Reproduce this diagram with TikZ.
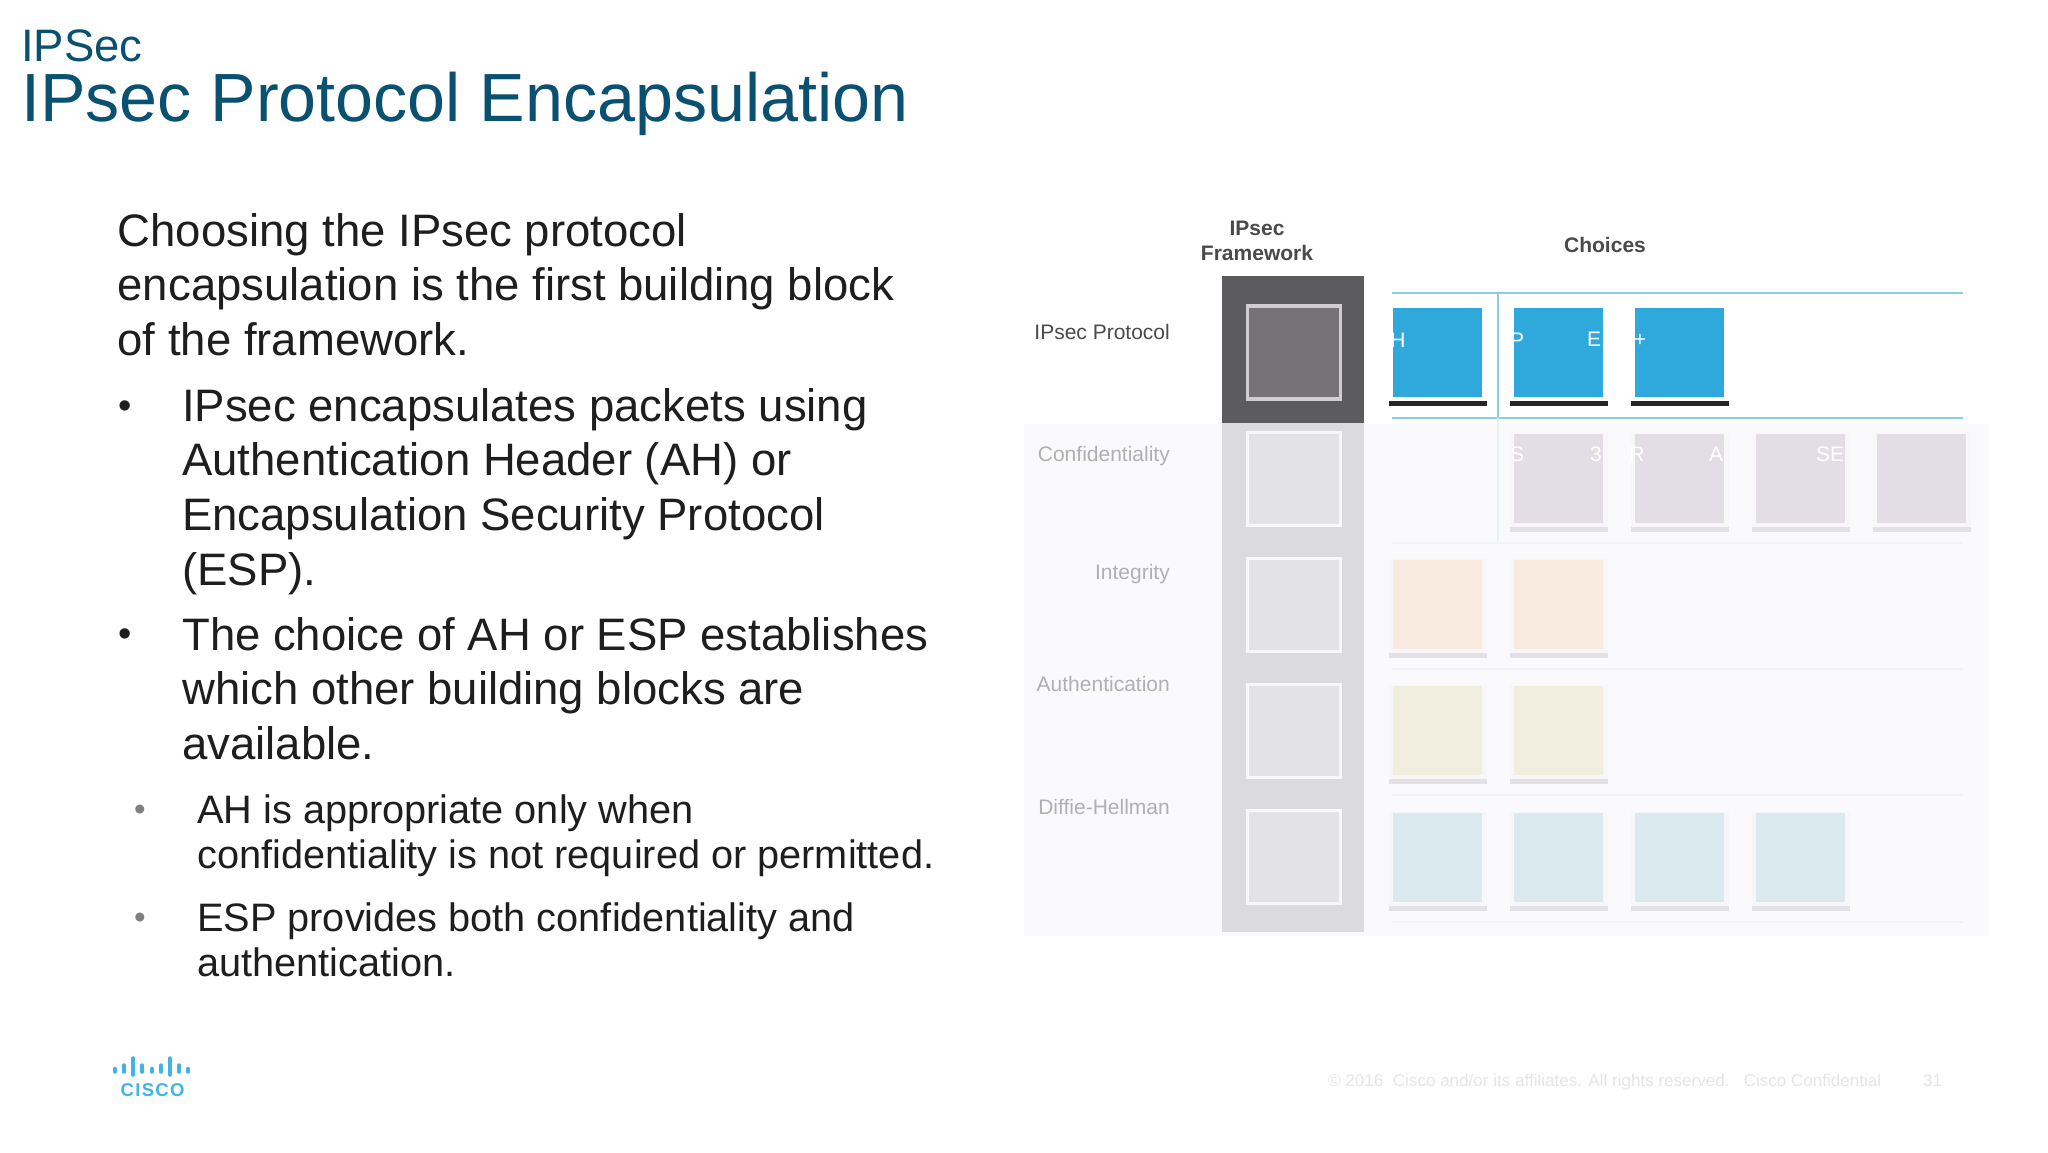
\documentclass[tikz,border=0pt]{standalone}
\usepackage{fontspec}
\setmainfont{Liberation Sans}
\definecolor{ciscotitle}{HTML}{0A5070}
\definecolor{ciscoblue}{HTML}{40B4E2}
\definecolor{bodyink}{HTML}{1E1E1E}
\definecolor{panelpale}{HTML}{FAFAFC}
\definecolor{framedark}{HTML}{5C5B5E}
\definecolor{framemid}{HTML}{757376}
\definecolor{framefade}{HTML}{DBDADE}
\definecolor{slotfade}{HTML}{E3E2E6}
\definecolor{choiceblue}{HTML}{2FA8DC}
\definecolor{choicemauve}{HTML}{E3DEE6}
\definecolor{choicepeach}{HTML}{F9EADF}
\definecolor{choicecream}{HTML}{F2EEDF}
\definecolor{choiceteal}{HTML}{DBEAEE}
\definecolor{rowline}{HTML}{8FCBE0}
\definecolor{rowfade}{HTML}{F2F3F6}
\definecolor{shadowfade}{HTML}{E2E1E5}
\definecolor{edgefade}{HTML}{F7F6F9}
\definecolor{labelfade}{HTML}{B0B0B3}
\definecolor{labeldark}{HTML}{4A4A4D}
\definecolor{footfade}{HTML}{E6E4E9}
\tikzset{
  paratext/.style={anchor=north west, inner sep=0pt, align=left, text=bodyink,
    font=\fontsize{45.5}{54.7}\selectfont},
  subtext/.style={anchor=north west, inner sep=0pt, align=left, text=bodyink,
    font=\fontsize{39.7}{45}\selectfont},
  bullettext/.style={anchor=base, inner sep=0pt, text=bodyink, font=\fontsize{38}{45}\selectfont},
  subbullet/.style={anchor=base, inner sep=0pt, text=gray, font=\fontsize{33}{40}\selectfont},
  rowlabel/.style={anchor=base east, inner sep=0pt, text=labelfade, font=\fontsize{21}{25}\selectfont},
  headlabel/.style={anchor=base, inner sep=0pt, text=labeldark, font=\bfseries\fontsize{21}{24}\selectfont},
  choicebox/.style={inner sep=0pt, minimum width=89pt, minimum height=89pt},
  slotbox/.style={inner sep=0pt, minimum width=93pt, minimum height=93pt, line width=3.5pt},
  ghosttext/.style={anchor=base, inner sep=0pt, text=white, font=\fontsize{21}{25}\selectfont},
  foottext/.style={anchor=base west, inner sep=0pt, text=footfade, font=\fontsize{17.05}{20}\selectfont},
  logobar/.style={ciscoblue, line width=3.5pt, line cap=round}
}
\newcommand\choicerow[6]{
  \fill[#5] (#2-4.5, #3+4) rectangle ++ (98, 94) ;
  \fill[#6] (#2-4.5, #3-1) rectangle ++ (98, 94) ;
  \node[choicebox, fill=#4] (#1) at (#2+44.5, #3+44.5) {} ;
}
\newcommand\logobit[3]{
  \draw[logobar] (#1, #2) -- (#1, #3) ;
}
\begin{document}
\begin{tikzpicture}[x=1pt, y=-1pt]
    \useasboundingbox (0, 0) rectangle (2048, 1152) ;
    \fill[white] (0, 0) rectangle (2048, 1152) ;
    % heading
    \node[anchor=base west, inner sep=0pt, text=ciscotitle, font=\fontsize{45.5}{50}\selectfont] (section) at (21, 61) {IPSec} ;
    \node[anchor=base west, inner sep=0pt, text=ciscotitle, font=\fontsize{68.2}{72}\selectfont] (title) at (21, 121) {IPsec Protocol Encapsulation} ;
    % left column
    \node[paratext] (intro) at (117.5, 213) {Choosing the IPsec protocol\\encapsulation is the first building block\\of the framework.} ;
    \node[bullettext] (dota) at (125, 418) {•} ;
    \node[paratext] (parah) at (182, 388) {IPsec encapsulates packets using\\Authentication Header (AH) or\\Encapsulation Security Protocol\\(ESP).} ;
    \node[bullettext] (dotb) at (125, 646) {•} ;
    \node[paratext] (parchoice) at (182, 617) {The choice of AH or ESP establishes\\which other building blocks are\\available.} ;
    \node[subbullet] (dotc) at (140, 820) {•} ;
    \node[subtext] (subah) at (197, 794.5) {AH is appropriate only when\\confidentiality is not required or permitted.} ;
    \node[subbullet] (dotd) at (140, 928) {•} ;
    \node[subtext] (subesp) at (197, 902.5) {ESP provides both confidentiality and\\authentication.} ;
    % panel
    \fill[panelpale] (1024, 424) rectangle (1989, 936) ;
    \fill[framefade] (1222, 423) rectangle (1364, 932) ;
    \fill[framedark] (1222, 276) rectangle (1364, 423) ;
    \node[slotbox, draw=slotfade!80!gray, fill=framemid] (slotprotocol) at (1294, 352.5) {} ;
    \node[slotbox, draw=slotfade!30!white, fill=slotfade] (slotconf) at (1294, 479) {} ;
    \node[slotbox, draw=slotfade!30!white, fill=slotfade] (slotint) at (1294, 605) {} ;
    \node[slotbox, draw=slotfade!30!white, fill=slotfade] (slotauth) at (1294, 731) {} ;
    \node[slotbox, draw=slotfade!30!white, fill=slotfade] (slotdh) at (1294, 857) {} ;
    % row rules
    \draw[rowline, line width=2.5pt] (1392, 293) -- (1963, 293) ;
    \draw[rowline, line width=2.5pt] (1392, 418) -- (1963, 418) ;
    \draw[rowline, line width=1.5pt] (1498, 293) -- (1498, 418) ;
    \draw[rowline!20!panelpale, line width=1.5pt] (1498, 418) -- (1498, 543) ;
    \draw[rowfade, line width=2.5pt] (1392, 543) -- (1963, 543) ;
    \draw[rowfade, line width=2.5pt] (1392, 669) -- (1963, 669) ;
    \draw[rowfade, line width=2.5pt] (1392, 795) -- (1963, 795) ;
    \draw[rowfade, line width=2.5pt] (1392, 922) -- (1963, 922) ;
    % choices
    \choicerow{ah}{1393}{308}{choiceblue}{black!85}{white}
    \choicerow{esp}{1514}{308}{choiceblue}{black!85}{white}
    \choicerow{espah}{1635}{308}{choiceblue}{black!85}{white}
    \choicerow{confa}{1514}{434}{choicemauve}{shadowfade}{edgefade}
    \choicerow{confb}{1635}{434}{choicemauve}{shadowfade}{edgefade}
    \choicerow{confc}{1756}{434}{choicemauve}{shadowfade}{edgefade}
    \choicerow{confd}{1877}{434}{choicemauve}{shadowfade}{edgefade}
    \choicerow{inta}{1393}{560}{choicepeach}{shadowfade}{edgefade}
    \choicerow{intb}{1514}{560}{choicepeach}{shadowfade}{edgefade}
    \choicerow{autha}{1393}{686}{choicecream}{shadowfade}{edgefade}
    \choicerow{authb}{1514}{686}{choicecream}{shadowfade}{edgefade}
    \choicerow{dha}{1393}{813}{choiceteal}{shadowfade}{edgefade}
    \choicerow{dhb}{1514}{813}{choiceteal}{shadowfade}{edgefade}
    \choicerow{dhc}{1635}{813}{choiceteal}{shadowfade}{edgefade}
    \choicerow{dhd}{1756}{813}{choiceteal}{shadowfade}{edgefade}
    % what is left of the box captions
    \node[ghosttext] (capah) at (1398, 347) {H} ;
    \node[ghosttext] (capesp) at (1517, 347) {P} ;
    \node[ghosttext] (capespb) at (1594, 346) {E} ;
    \node[ghosttext] (capespc) at (1640, 346) {+} ;
    \node[ghosttext] (capconfa) at (1517, 461) {S} ;
    \node[ghosttext] (capconfb) at (1596, 461) {3} ;
    \node[ghosttext] (capconfc) at (1637, 461) {R} ;
    \node[ghosttext] (capconfd) at (1716, 461) {A} ;
    \node[ghosttext] (capconfe) at (1830, 461) {SE} ;
    % labels
    \node[headlabel] (framehead) at (1257, 235) {IPsec} ;
    \node[headlabel] (framesub) at (1257, 260) {Framework} ;
    \node[headlabel] (choicehead) at (1605, 252) {Choices} ;
    \node[rowlabel, text=labeldark] (protocol) at (1170, 339) {IPsec Protocol} ;
    \node[rowlabel] (conf) at (1170, 461) {Confidentiality} ;
    \node[rowlabel] (integ) at (1170, 579) {Integrity} ;
    \node[rowlabel] (auth) at (1170, 691) {Authentication} ;
    \node[rowlabel] (dh) at (1170, 814) {Diffie-Hellman} ;
    % logo
    \logobit{115}{1068.5}{1072}
    \logobit{124}{1065}{1072}
    \logobit{133}{1058}{1075}
    \logobit{142}{1065}{1072}
    \logobit{152}{1068.5}{1072}
    \logobit{161}{1065}{1072}
    \logobit{170}{1058}{1075}
    \logobit{179}{1065}{1072}
    \logobit{188}{1068.5}{1072}
    \node[anchor=base west, inner sep=0pt, text=ciscoblue, font=\bfseries\fontsize{18.5}{20}\selectfont\addfontfeatures{LetterSpace=7}] (logo) at (120.5, 1096) {CISCO} ;
    % footer
    \node[foottext] (legal) at (1328, 1086) {© 2016\ \ Cisco and/or its affiliates. All rights reserved.\ \ \ Cisco Confidential} ;
    \node[foottext] (pagenum) at (1923, 1086) {31} ;
\end{tikzpicture}
\end{document}
